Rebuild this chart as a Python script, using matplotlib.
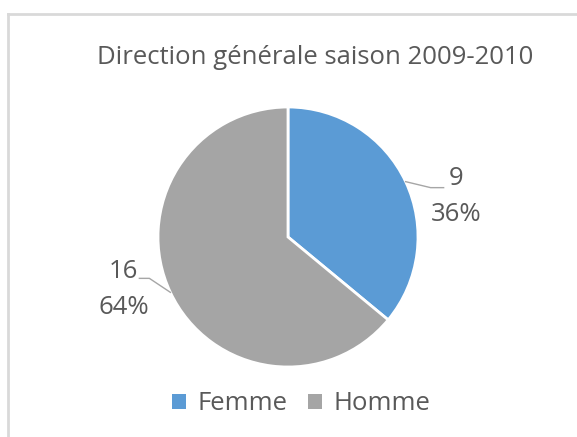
import matplotlib
matplotlib.use("Agg")
import matplotlib.pyplot as plt
import numpy as np

categories = ["Femme", "Homme"]
values = [9, 16]
colors = ["#5B9BD5", "#A5A5A5"]
title = "Direction générale saison 2009-2010"

plt.rcParams['font.family'] = ['Open Sans', 'DejaVu Sans']
TXT = "#595959"
FS = 18.5
W, H = 577, 437
fig = plt.figure(figsize=(W/100, H/100), dpi=100)

# chart border (top and left visible)
fig.add_artist(plt.Line2D([8/W, 8/W], [0, 1-14/H], color="#D9D9D9", lw=2, transform=fig.transFigure))
fig.add_artist(plt.Line2D([8/W, 1], [1-14/H, 1-14/H], color="#D9D9D9", lw=2, transform=fig.transFigure))

cx, cy, r = 288, 237, 130
ax = fig.add_axes([(cx-r)/W, (H-cy-r)/H, 2*r/W, 2*r/H])
wedges, _ = ax.pie(values, colors=colors, startangle=90, counterclock=False,
                   wedgeprops=dict(edgecolor="white", linewidth=2))
ax.set_xlim(-1, 1); ax.set_ylim(-1, 1)
ax.set_aspect("auto")
ax.axis("off")

total = sum(values)
for i, w in enumerate(wedges):
    ang = np.deg2rad((w.theta1 + w.theta2) / 2)
    x0, y0 = np.cos(ang), np.sin(ang)
    s = 1 if x0 > 0 else -1
    if s > 0:
        bend = (x0 + 25/r, y0 - 6/r)
        end = (bend[0] + 13/r, bend[1])
        tx, ty = end[0] + 12/r, end[1] - 9/r
    else:
        bend = (x0 - 21/r, y0 + 14/r)
        end = (bend[0] - 10/r, bend[1])
        tx, ty = end[0] - 16/r, end[1] - 11/r
    ax.plot([x0, bend[0], end[0]], [y0, bend[1], end[1]], color="#A6A6A6", lw=1, clip_on=False)
    pct = round(values[i] / total * 100)
    ax.text(tx, ty, f"{values[i]}\n{pct}%", ha="center", va="center", fontsize=FS,
            color=TXT, linespacing=1.55, clip_on=False)

fig.text(315/W, 1-57/H, title, ha="center", va="center", fontsize=FS, color=TXT)

leg = fig.legend(wedges, categories, loc="center", bbox_to_anchor=(301/W, 1-404/H), ncol=2,
                 frameon=False, fontsize=FS, handlelength=0.55, handleheight=0.55,
                 handletextpad=0.45, columnspacing=0.8, labelcolor=TXT)
for h in leg.legend_handles:
    h.set_edgecolor("none")

fig.savefig("out.png", dpi=100, facecolor="white")
